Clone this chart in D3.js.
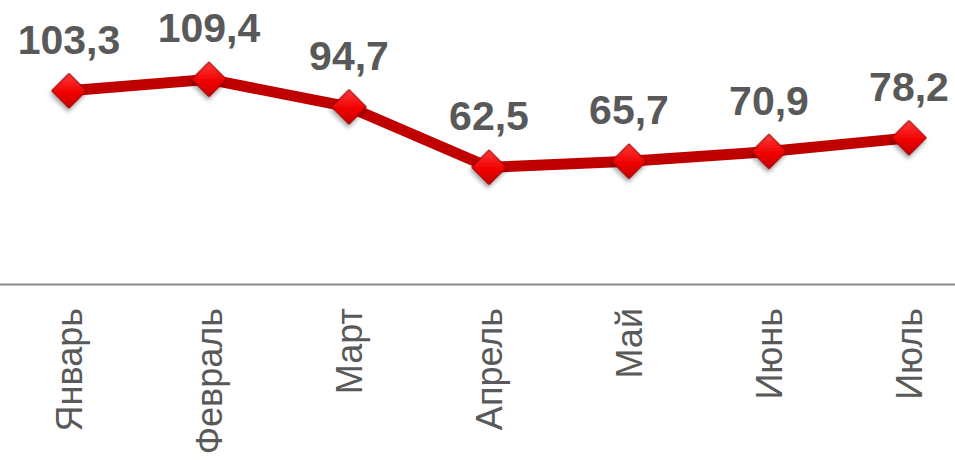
<!DOCTYPE html>
<html>
<head>
<meta charset="utf-8">
<script src="https://cdn.jsdelivr.net/npm/d3@7"></script>
<style>
  html, body { margin: 0; padding: 0; background: #fff; }
  svg { display: block; }
</style>
</head>
<body>
<svg id="chart" width="955" height="467"></svg>
<script>
const months = ["Январь", "Февраль", "Март", "Апрель", "Май", "Июнь", "Июль"];
const values = [103.3, 109.4, 94.7, 62.5, 65.7, 70.9, 78.2];
const valueLabels = ["103,3", "109,4", "94,7", "62,5", "65,7", "70,9", "78,2"];

const W = 955, H = 467;
const svg = d3.select("#chart");
const font = "'Liberation Sans', Arial, Helvetica, sans-serif";

const x = d3.scaleBand().domain(months).range([-1, 979]);
const y = d3.scaleLinear().domain([0, 120]).range([284.5, 59.5]);
const cx = m => x(m) + x.bandwidth() / 2;

const defs = svg.append("defs");
const grad = defs.append("linearGradient").attr("id", "mk")
  .attr("x1", "0%").attr("y1", "0%").attr("x2", "100%").attr("y2", "100%");
grad.append("stop").attr("offset", "0%").attr("stop-color", "#ff3a3a");
grad.append("stop").attr("offset", "55%").attr("stop-color", "#f00000");
grad.append("stop").attr("offset", "100%").attr("stop-color", "#c80000");
const f = defs.append("filter").attr("id", "sh")
  .attr("x", "-50%").attr("y", "-50%").attr("width", "200%").attr("height", "200%");
f.append("feDropShadow").attr("dx", 1.5).attr("dy", 3).attr("stdDeviation", 2)
  .attr("flood-color", "#000").attr("flood-opacity", 0.35);

// axis
const ax = svg.append("g").attr("transform", `translate(0,${y(0) - 0.5})`)
  .call(d3.axisBottom(x).tickSize(0).tickPadding(0));
ax.select(".domain").attr("stroke", "#8c8c8c").attr("stroke-width", 2);
ax.selectAll(".tick text")
  .attr("transform", "rotate(-90)")
  .attr("text-anchor", "end")
  .attr("x", -24).attr("y", 0).attr("dy", "0.36em")
  .attr("fill", "#595959")
  .style("font-family", font)
  .style("font-size", "36px");

// line
const data = months.map((m, i) => ({ m, v: values[i], l: valueLabels[i] }));
svg.append("path").datum(data)
  .attr("fill", "none")
  .attr("stroke", "#c00000")
  .attr("stroke-width", 11)
  .attr("stroke-linejoin", "round")
  .attr("d", d3.line().x(d => cx(d.m)).y(d => y(d.v)));

// markers
const sym = d3.symbol().type(d3.symbolSquare).size(600);
svg.selectAll(".mk").data(data).enter().append("path")
  .attr("class", "mk")
  .attr("d", sym)
  .attr("transform", d => `translate(${cx(d.m)},${y(d.v)}) rotate(45)`)
  .attr("fill", "url(#mk)")
  .attr("stroke", "#990000")
  .attr("stroke-width", 1)
  .attr("filter", "url(#sh)");

// value labels
svg.selectAll(".vl").data(data).enter().append("text")
  .attr("class", "vl")
  .attr("x", d => cx(d.m))
  .attr("y", d => y(d.v) - 37)
  .attr("text-anchor", "middle")
  .attr("fill", "#595959")
  .style("font-family", font)
  .style("font-weight", "bold")
  .style("font-size", "41px")
  .text(d => d.l);
</script>
</body>
</html>
